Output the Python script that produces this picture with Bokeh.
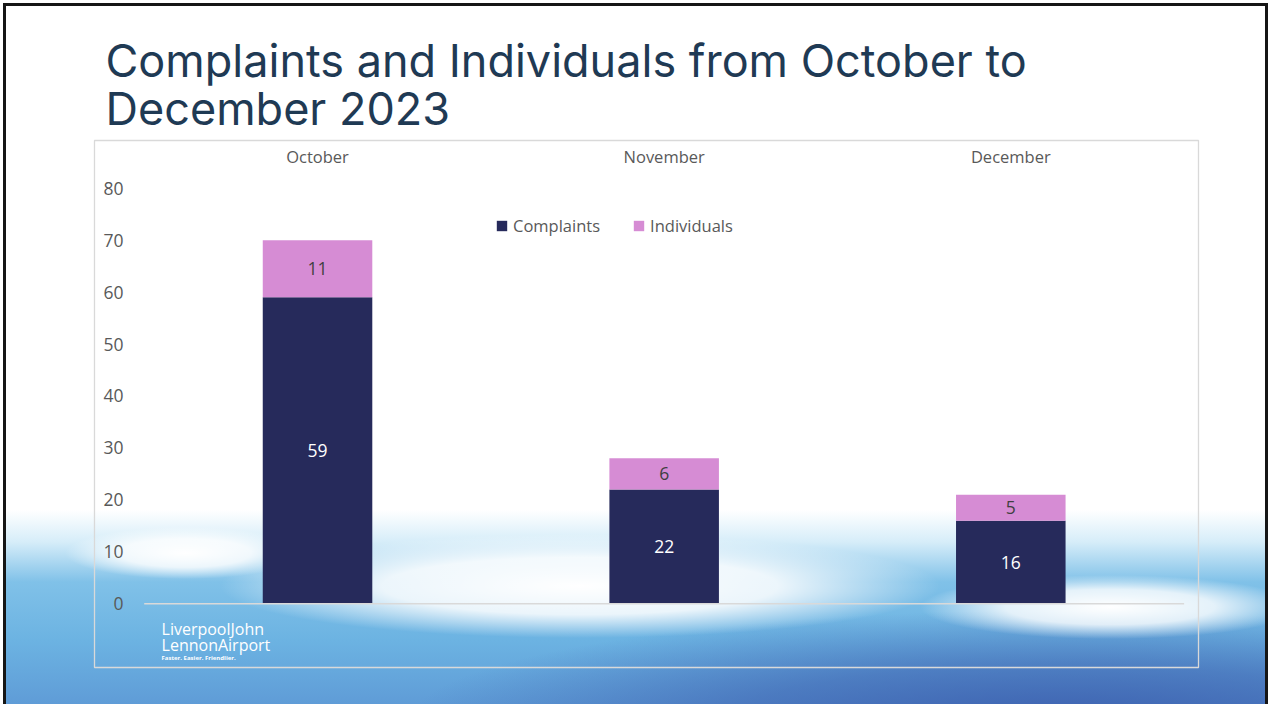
from bokeh.plotting import figure
from bokeh.models import ColumnDataSource, Range1d, FixedTicker, Label
from bokeh.embed import file_html
from bokeh.resources import INLINE
from bokeh.core.properties import value

months = ["October", "November", "December"]
complaints = [59, 22, 16]
individuals = [11, 6, 5]
series = ["Complaints", "Individuals"]
colors = ["#262a5b", "#d68cd4"]
y_ticks = [0, 10, 20, 30, 40, 50, 60, 70, 80]
title_line1 = "Complaints and Individuals from October to"
title_line2 = "December 2023"
logo_lines = ["LiverpoolJohn", "LennonAirport"]
logo_tagline = "Faster. Easier. Friendlier."

FONT = "Open Sans"
GREY = "#595959"

xpos = list(range(len(months)))
src = ColumnDataSource(dict(
    x=xpos,
    Complaints=complaints,
    Individuals=individuals,
    c_mid=[c / 2 for c in complaints],
    i_mid=[c + i / 2 for c, i in zip(complaints, individuals)],
    c_txt=[str(c) for c in complaints],
    i_txt=[str(i) for i in individuals],
))

p = figure(x_range=Range1d(-0.6434, len(months) - 1 + 0.5415),
           y_range=Range1d(-12.26, 89.18),
           width=1268, height=704, output_backend="svg", toolbar_location=None,
           x_axis_location="above",
           min_border_left=94, min_border_right=70, min_border_top=140, min_border_bottom=37)

p.background_fill_alpha = 0
p.border_fill_alpha = 0
p.outline_line_color = "#d9d9d9"
p.outline_line_width = 1.3
p.styles = {
    "background-image": ", ".join([
        "radial-gradient(ellipse 120px 26px at 185px 553px, rgba(255,255,255,1) 0%, rgba(255,255,255,0.8) 55%, rgba(255,255,255,0) 100%)",
        "radial-gradient(ellipse 360px 52px at 580px 586px, rgba(255,255,255,1) 0%, rgba(255,255,255,0.85) 55%, rgba(255,255,255,0) 100%)",
        "radial-gradient(ellipse 190px 32px at 1110px 607px, rgba(255,255,255,1) 0%, rgba(255,255,255,0.8) 55%, rgba(255,255,255,0) 100%)",
        "radial-gradient(ellipse 650px 110px at 1060px 720px, rgba(58,92,172,0.9) 0%, rgba(58,92,172,0.55) 50%, rgba(58,92,172,0) 100%)",
        "linear-gradient(180deg, #ffffff 0px, #ffffff 510px, #d6edf9 542px, #80c1e8 582px, #6cb3e2 640px, #5f9cd7 704px)",
    ]),
    "box-shadow": "inset 3px 3px 0 0 #ffffff, inset 6px 6px 0 0 #161616, inset -3px 0 0 0 #161616",
}

p.vbar_stack(series, x="x", width=0.316, color=colors, source=src,
             legend_label=series, line_color=None)

p.line(x=[-0.5, len(months) - 0.5], y=[0, 0], line_color="#d9d9d9", line_width=1.5)

p.text(x="x", y="c_mid", text="c_txt", source=src, text_align="center",
       text_baseline="middle", text_font=value(FONT), text_font_size="17.5px", text_color="#ffffff")
p.text(x="x", y="i_mid", text="i_txt", source=src, text_align="center",
       text_baseline="middle", text_font=value(FONT), text_font_size="17.5px", text_color="#404040")

# axes
p.xaxis.ticker = FixedTicker(ticks=xpos)
p.xaxis.major_label_overrides = {i: m for i, m in zip(xpos, months)}
p.xaxis.axis_line_color = None
p.xaxis.major_tick_line_color = None
p.xaxis.minor_tick_line_color = None
p.xaxis.major_tick_out = 0
p.xaxis.major_label_standoff = -27
p.xaxis.major_label_text_font = FONT
p.xaxis.major_label_text_font_size = "16.5px"
p.xaxis.major_label_text_color = GREY

p.yaxis.ticker = FixedTicker(ticks=y_ticks)
p.yaxis.axis_line_color = None
p.yaxis.major_tick_line_color = None
p.yaxis.minor_tick_line_color = None
p.yaxis.major_tick_out = 0
p.yaxis.major_label_standoff = -29
p.yaxis.major_label_text_font = FONT
p.yaxis.major_label_text_font_size = "17.5px"
p.yaxis.major_label_text_color = GREY

p.xgrid.grid_line_color = None
p.ygrid.grid_line_color = None

# legend
lg = p.legend[0]
lg.orientation = "horizontal"
lg.location = (401, 430)
lg.background_fill_alpha = 0
lg.border_line_color = None
lg.padding = 0
lg.margin = 0
lg.spacing = 32
lg.glyph_width = 13
lg.glyph_height = 13
lg.label_standoff = 5
lg.label_text_font = FONT
lg.label_text_font_size = "16.5px"
lg.label_text_color = GREY

# title
p.title.text = title_line1 + "\n" + title_line2
p.title.text_font = "Inter"
p.title.text_font_size = "45px"
p.title.text_font_style = "normal"
p.title.text_color = "#1f3a54"
p.title.align = "left"
p.title.offset = 11
p.title.standoff = 9
p.title.text_line_height = 0.87

# logo text
for txt, yy in zip(logo_lines, [-4.8, -7.9]):
    p.add_layout(Label(x=-0.45, y=yy, text=txt, text_font=FONT, text_font_size="16px",
                       text_color="#ffffff", text_baseline="alphabetic"))
p.add_layout(Label(x=-0.45, y=-10.4, text=logo_tagline, text_font=FONT, text_font_size="6px",
                   text_font_style="bold", text_color="#ffffff", text_baseline="alphabetic"))

open("out.html", "w").write(file_html(p, INLINE))
